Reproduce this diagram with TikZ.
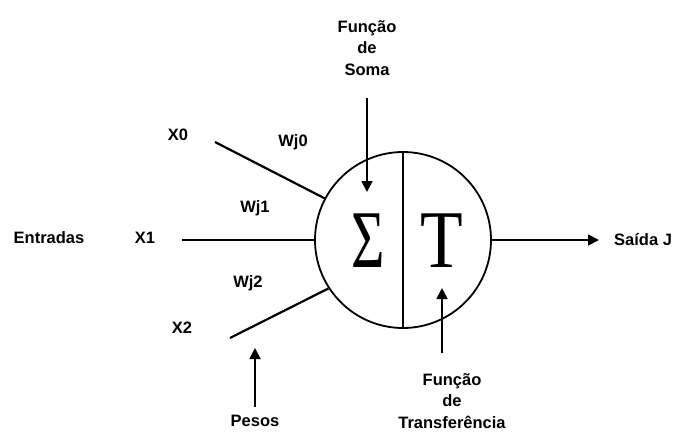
\documentclass[tikz,border=0pt]{standalone}
\usepackage{fontspec}
\setmainfont{Liberation Sans}
\newfontfamily\symfont{Liberation Serif}
\usetikzlibrary{arrows.meta}

\begin{document}
\begin{tikzpicture}[
  x=1pt, y=-1pt,
  lbl/.style={font=\fontsize{16.5}{21.5}\selectfont\bfseries, align=center, inner sep=0pt},
  wire/.style={line width=2.2pt},
  arr/.style={line width=1.8pt, -{Triangle[length=11pt,width=11pt]}},
  big/.style={font=\symfont\fontsize{82}{82}\selectfont, inner sep=0pt}
]
  \useasboundingbox (0,0) rectangle (674,432);

  % the neuron
  \node[draw, circle, line width=1.8pt, minimum size=176pt, inner sep=0pt] (neuron) at (403,240) {};
  \draw[line width=1.8pt] (neuron.north) -- (neuron.south);
  \node[big, xscale=0.7] (sigma) at (368,241) {Σ};
  \node[big, xscale=0.85] (transf) at (442,241) {T};

  % inputs
  \node[lbl] (entradas) at (49,238) {Entradas};
  \node[lbl] (x0) at (178,135) {X0};
  \node[lbl] (x1) at (145,238) {X1};
  \node[lbl] (x2) at (182,328) {X2};
  \node[lbl] (wj0) at (293,142) {Wj0};
  \node[lbl] (wj1) at (255,208) {Wj1};
  \node[lbl] (wj2) at (248,283) {Wj2};
  \coordinate (in0) at (215,142);
  \coordinate (in1) at (182,240);
  \coordinate (in2) at (230,338);
  \draw[wire] (in0) -- (neuron.152);
  \draw[wire] (in1) -- (neuron.west);
  \draw[wire] (in2) -- (neuron.213);

  % weights
  \node[lbl] (pesos) at (255,421) {Pesos};
  \draw[arr] (pesos.north) ++(0,-8) coordinate (pbase) -- (255,348) coordinate (ptip);

  % functions
  \node[lbl] (soma) at (367,48) {Função\\de\\Soma};
  \coordinate (somatip) at (367,192);
  \draw[arr, shorten <=22pt] (soma.south) -- (somatip);
  \node[lbl] (transfer) at (452,401) {Função\\de\\Transferência};
  \coordinate (transftip) at (442,288);
  \draw[arr, shorten <=20pt] (transfer.north -| transftip) -- (transftip);

  % output
  \node[lbl, anchor=west] (saida) at (614,240) {Saída J};
  \draw[arr, shorten >=15pt] (neuron.east) -- (saida.west);
\end{tikzpicture}
\end{document}
